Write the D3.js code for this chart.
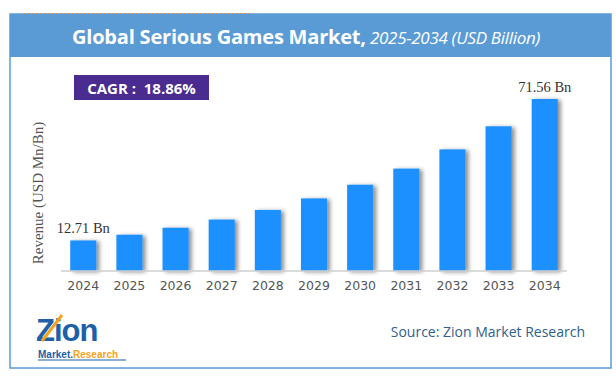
<!DOCTYPE html>
<html><head><meta charset="utf-8">
<script src="https://cdn.jsdelivr.net/npm/d3@7"></script>
<style>body{margin:0;background:#fff}svg{display:block}</style>
</head><body>
<script>
const years = ["2024","2025","2026","2027","2028","2029","2030","2031","2032","2033","2034"];
const revenue = [12.71, 15.1, 18.0, 21.4, 25.4, 30.2, 35.9, 42.6, 50.6, 60.2, 71.56];
const valueLabels = {"2024":"12.71 Bn","2034":"71.56 Bn"};
const titleMain = "Global Serious Games Market,";
const titleSub = "2025-2034 (USD Billion)";
const cagrText = "CAGR :  18.86%";
const yLabel = "Revenue (USD Mn/Bn)";
const sourceText = "Source: Zion Market Research";

const W = 616, H = 378;
const svg = d3.select("body").append("svg").attr("width", W).attr("height", H);
const defs = svg.append("defs");
const f = defs.append("filter").attr("id","sh").attr("x","-30%").attr("y","-10%").attr("width","170%").attr("height","130%");
f.append("feDropShadow").attr("dx",3).attr("dy",1).attr("stdDeviation",2).attr("flood-color","#000").attr("flood-opacity",0.45);

// frame
svg.append("rect").attr("x",10).attr("y",14).attr("width",601).attr("height",354)
  .attr("fill","#fff").attr("stroke","#5b9bd5").attr("stroke-width",1.5);
svg.append("rect").attr("x",10).attr("y",14).attr("width",601).attr("height",43).attr("fill","#5b9bd5");
svg.append("line").attr("x1",24).attr("x2",250).attr("y1",13.5).attr("y2",13.5)
  .attr("stroke","#e8883a").attr("stroke-width",1).attr("stroke-dasharray","2,2");

const t = svg.append("text").attr("x",306).attr("y",44).attr("text-anchor","middle")
  .attr("fill","#fff").attr("font-family","'Open Sans', sans-serif");
t.append("tspan").attr("font-size",20).attr("font-weight","bold").attr("letter-spacing",-0.2).text(titleMain);
t.append("tspan").attr("font-size",17).attr("font-style","italic").attr("letter-spacing",-0.3).text(" " + titleSub);

// CAGR box
svg.append("rect").attr("x",74).attr("y",75).attr("width",135).attr("height",25).attr("fill","#4a2c91");
svg.append("text").attr("x",141.5).attr("y",93.5).attr("text-anchor","middle").attr("fill","#fff")
  .attr("font-family","'Open Sans', sans-serif").attr("font-weight","bold").attr("font-size",15)
  .attr("xml:space","preserve").text(cagrText);

// scales
const x = d3.scaleBand().domain(years).range([61, 567]).paddingInner(0.435).paddingOuter(0.2);
const y = d3.scaleLinear().domain([0, 71.56]).range([271, 99]);

svg.append("g").selectAll("rect").data(years).join("rect")
  .attr("x", d => x(d)).attr("width", x.bandwidth())
  .attr("y", (d,i) => y(revenue[i])).attr("height", (d,i) => y(0) - y(revenue[i]))
  .attr("fill","#1e90ff").attr("filter","url(#sh)");

const ax = svg.append("g").attr("transform","translate(0,271)")
  .call(d3.axisBottom(x).tickSize(0).tickPadding(10));
ax.select(".domain").attr("stroke","#cfcfcf").attr("stroke-width",1.5).attr("d","M61,0H567");
ax.selectAll("text").attr("font-family","Verdana, 'DejaVu Sans', sans-serif").attr("font-size",12.5).attr("fill","#555");

svg.append("g").selectAll("text").data(years.filter(d => valueLabels[d])).join("text")
  .attr("x", d => x(d) + x.bandwidth()/2)
  .attr("y", d => y(revenue[years.indexOf(d)]) - 7)
  .attr("text-anchor","middle").attr("font-family","'Liberation Serif', serif").attr("font-size",14.5)
  .attr("fill","#333").text(d => valueLabels[d]);

svg.append("text").attr("transform","translate(43,193) rotate(-90)").attr("text-anchor","middle")
  .attr("font-family","'Liberation Serif', serif").attr("font-size",15).attr("fill","#555").text(yLabel);

// logo
const lg = svg.append("g");
lg.append("text").attr("x",36).attr("y",341).attr("font-family","'Liberation Sans', Arial, sans-serif")
  .attr("font-weight","bold").attr("font-size",31).attr("fill","#1d5fa8").attr("letter-spacing",-1).text("Zion");
lg.append("line").attr("x1",42).attr("x2",62).attr("y1",341).attr("y2",315).attr("stroke","#f7a21b").attr("stroke-width",3);
const lt = lg.append("text").attr("x",38).attr("y",358).attr("font-family","'Liberation Sans', Arial, sans-serif")
  .attr("font-weight","bold").attr("font-size",10);
lt.append("tspan").attr("fill","#1d5fa8").text("Market.");
lt.append("tspan").attr("fill","#f7a21b").text("Research");
lg.append("line").attr("x1",38).attr("x2",126).attr("y1",360).attr("y2",360).attr("stroke","#1d5fa8").attr("stroke-width",1);

svg.append("text").attr("x",585).attr("y",337).attr("text-anchor","end")
  .attr("font-family","'Open Sans', sans-serif").attr("font-size",14).attr("fill","#2f5f8f").text(sourceText);
</script>
</body></html>
